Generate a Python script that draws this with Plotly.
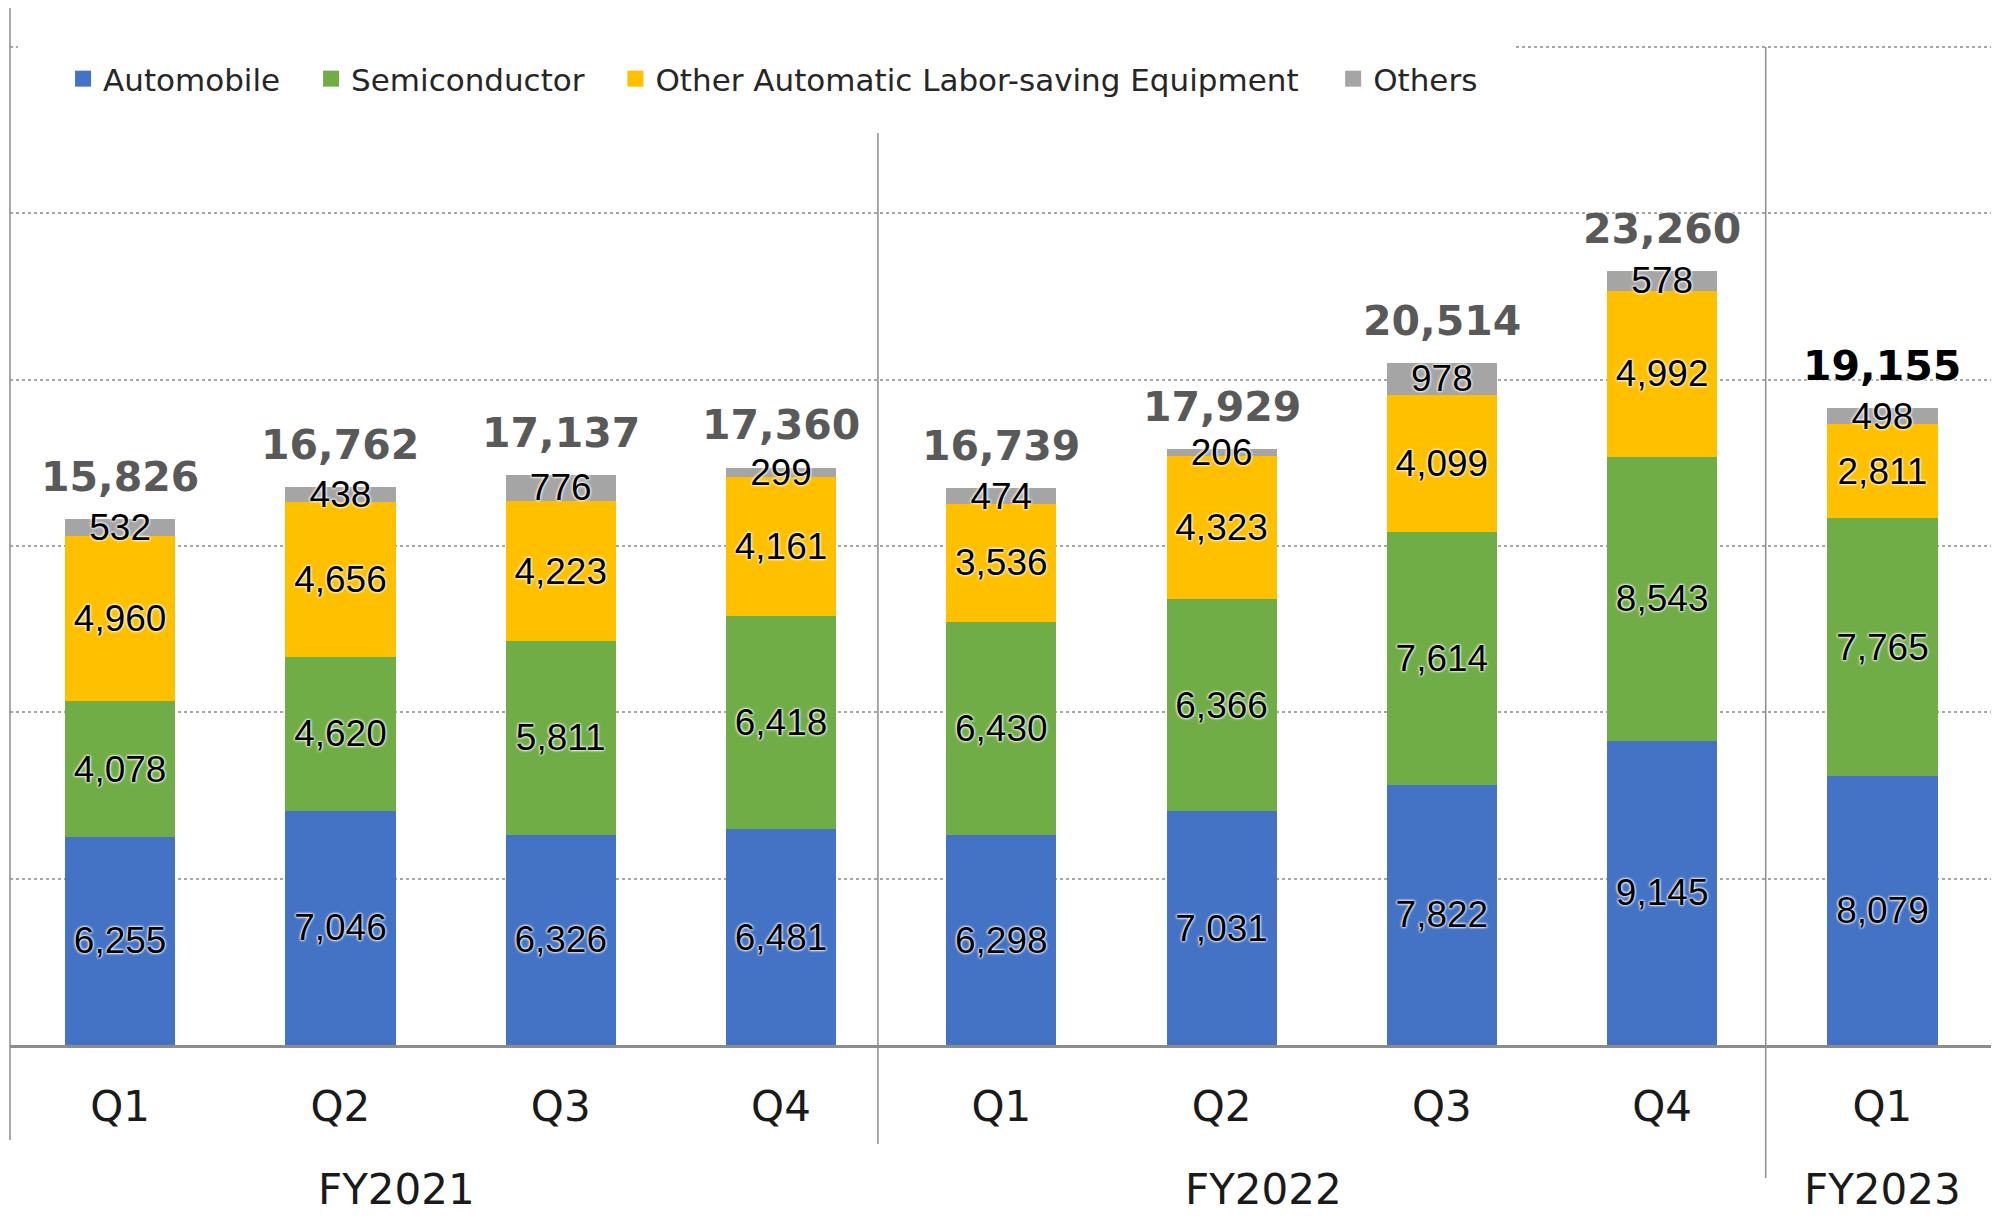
import plotly.graph_objects as go

# quarterly sales by segment
quarters = ["Q1", "Q2", "Q3", "Q4", "Q1", "Q2", "Q3", "Q4", "Q1"]
fiscal_years = ["FY2021"] * 4 + ["FY2022"] * 4 + ["FY2023"]
automobile = [6255, 7046, 6326, 6481, 6298, 7031, 7822, 9145, 8079]
semiconductor = [4078, 4620, 5811, 6418, 6430, 6366, 7614, 8543, 7765]
other_equipment = [4960, 4656, 4223, 4161, 3536, 4323, 4099, 4992, 2811]
others = [532, 438, 776, 299, 474, 206, 978, 578, 498]
totals = [15826, 16762, 17137, 17360, 16739, 17929, 20514, 23260, 19155]

series_names = ["Automobile", "Semiconductor",
                "Other Automatic Labor-saving Equipment", "Others"]
series_values = [automobile, semiconductor, other_equipment, others]
colors = ["#4472C4", "#70AD47", "#FFC000", "#A5A5A5"]

# unique category keys, one per bar
x_keys = [f"{fy} {q}" for fy, q in zip(fiscal_years, quarters)]

# the page body has an 8px margin, so the figure is drawn 8px smaller
OFF = 8
W, H = 1999 - OFF, 1216 - OFF
BASE = 1045                 # baseline row in the screenshot
ML, MR, MT = 10 - OFF, 2, 0
plot_h = BASE - OFF - MT
MB = H - MT - plot_h

glow = "0px 0px 3px white, 0px 0px 3px white, 0px 0px 2px white"

fig = go.Figure()

# stacked bars
for name, vals, col in zip(series_names, series_values, colors):
    fig.add_trace(go.Bar(
        x=x_keys,
        y=vals,
        name=name,
        showlegend=False,
        marker=dict(color=col, line=dict(width=0)),
        text=[f"{v:,}" for v in vals],
        textposition="inside",
        insidetextanchor="middle",
        textangle=0,
        constraintext="none",
        textfont=dict(family="Liberation Sans, Arial", size=37, color="black",
                      shadow=glow),
        hoverinfo="skip",
    ))

# legend entries with larger square swatches
pads = ["\u00a0\u00a0\u2009", "\u00a0\u00a0\u2009", "\u00a0\u00a0\u00a0", ""]
for name, col, pad in zip(series_names, colors, pads):
    fig.add_trace(go.Scatter(
        x=[None], y=[None], mode="markers", name=name + pad,
        marker=dict(symbol="square", size=16, color=col),
        hoverinfo="skip",
    ))


def py(px):
    # screenshot row -> paper y
    return (BASE - px) / plot_h


annotations = []

# totals above each bar
for i, (k, t) in enumerate(zip(x_keys, totals)):
    annotations.append(dict(
        x=k, y=t, xref="x", yref="y",
        text=f"{t:,}",
        showarrow=False,
        yanchor="middle",
        yshift=42,
        font=dict(family="DejaVu Sans", size=41, weight="bold",
                  color="#000000" if i == len(totals) - 1 else "#595959",
                  shadow=glow),
    ))

# fiscal year group labels (placed a little left of the group centre)
groups = []
for i, fy in enumerate(fiscal_years):
    if not groups or groups[-1][0] != fy:
        groups.append([fy, i, i])
    else:
        groups[-1][2] = i
label_shift = [-0.245, -0.31, 0.0]
for (fy, a, b), s in zip(groups, label_shift):
    annotations.append(dict(
        x=(a + b) / 2 + s, y=py(1189), xref="x", yref="paper",
        text=fy, showarrow=False, yanchor="middle",
        font=dict(family="DejaVu Sans", size=42, color="#1a1a1a"),
    ))

line_col = "#8c8c8c"
shapes = [
    # white patch hiding the top gridline behind the legend
    dict(type="rect", xref="paper", yref="paper",
         x0=0.004, x1=0.7565, y0=py(55), y1=py(40),
         fillcolor="white", line=dict(width=0), layer="above"),
    # frame and group separators
    dict(type="line", xref="paper", yref="paper", x0=0, x1=0,
         y0=py(8), y1=py(1140), line=dict(color=line_col, width=1.5)),
    dict(type="line", xref="paper", yref="paper", x0=1, x1=1,
         y0=py(8), y1=py(1142), line=dict(color=line_col, width=1.5)),
    dict(type="line", xref="x", yref="paper", x0=3.44, x1=3.44,
         y0=py(133), y1=py(1144), line=dict(color=line_col, width=1.5)),
    dict(type="line", xref="x", yref="paper", x0=7.47, x1=7.47,
         y0=py(47), y1=py(1178), line=dict(color=line_col, width=1.5)),
]

fig.update_layout(
    width=W, height=H,
    margin=dict(l=ML, r=MR, t=MT, b=MB),
    barmode="stack",
    bargap=0.5,
    paper_bgcolor="white",
    plot_bgcolor="white",
    annotations=annotations,
    shapes=shapes,
    legend=dict(
        orientation="h",
        x=0.0267, xanchor="left",
        y=py(79), yanchor="middle",
        font=dict(family="DejaVu Sans", size=31, color="#262626"),
        bgcolor="rgba(0,0,0,0)",
        traceorder="normal",
    ),
    xaxis=dict(
        range=[-0.5, 8.52],
        tickmode="array",
        tickvals=x_keys,
        ticktext=quarters,
        tickfont=dict(family="DejaVu Sans", size=42, color="#1a1a1a"),
        ticks="",
        ticklabelstandoff=23,
        showline=True, linecolor="#8c8c8c", linewidth=2.5,
        showgrid=False, zeroline=False,
    ),
    yaxis=dict(
        range=[0, 30000 * plot_h / 998],
        tickvals=[5000, 10000, 15000, 20000, 25000, 30000],
        showticklabels=False,
        showgrid=True, gridcolor="#a6a6a6", gridwidth=1.5, griddash="dot",
        zeroline=False, showline=False,
    ),
    showlegend=True,
)

fig.write_html("out.html")
